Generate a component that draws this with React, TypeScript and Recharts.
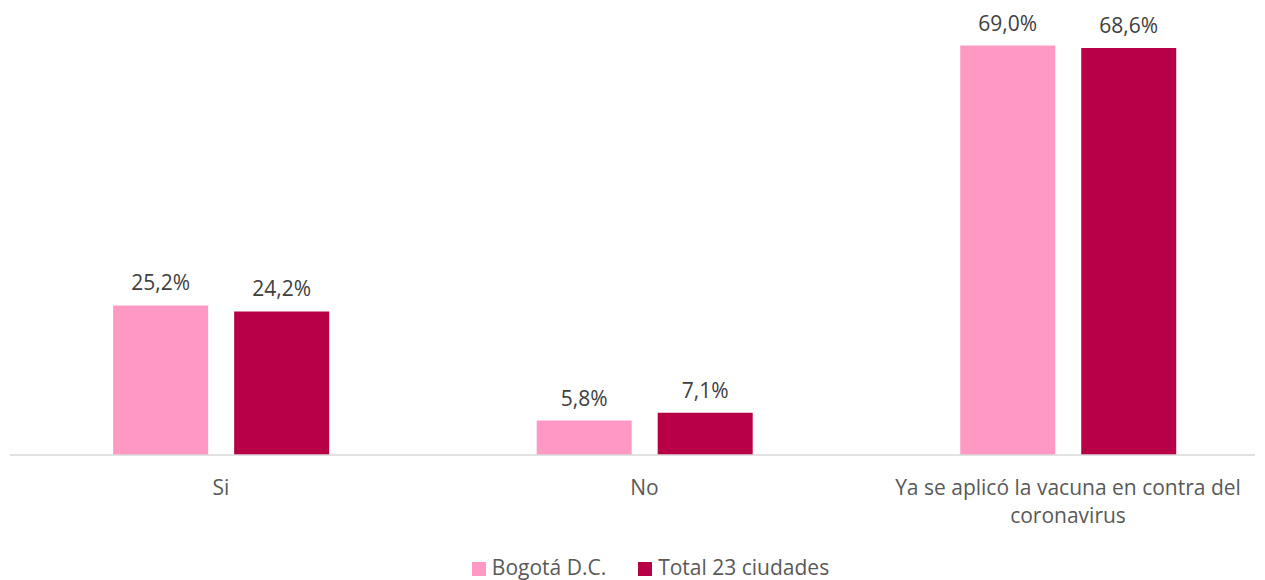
import { Bar, BarChart, LabelList, Legend, XAxis, YAxis } from "recharts";

const categories = ["Si", "No", "Ya se aplicó la vacuna en contra del coronavirus"];
const categoryLines = [["Si"], ["No"], ["Ya se aplicó la vacuna en contra del", "coronavirus"]];
const bogota = [25.2, 5.8, 69.0];
const total23 = [24.2, 7.1, 68.6];
const seriesNames = ["Bogotá D.C.", "Total 23 ciudades"];

const data = categories.map((name, i) => ({
  idx: i,
  name,
  bogota: bogota[i],
  total: total23[i],
}));

const fmt = (v: number) => v.toFixed(1).replace(".", ",") + "%";

const CategoryTick = (props: any) => {
  const { x, y, payload } = props;
  const lines = categoryLines[payload.value] || [];
  return (
    <text
      x={x}
      y={y}
      textAnchor="middle"
      fontSize={21}
      fill="#595959"
      fontFamily="Open Sans, sans-serif"
    >
      {lines.map((l, i) => (
        <tspan key={i} x={x} dy={i === 0 ? 32 : 28}>
          {l}
        </tspan>
      ))}
    </text>
  );
};

export default function App() {
  return (
    <div style={{ position: "absolute", left: 0, top: 0, fontFamily: "Open Sans, sans-serif" }}>
      <BarChart
        width={1265}
        height={580}
        data={data}
        margin={{ top: 10, right: 10, left: 10, bottom: 0 }}
        barSize={95}
        barGap={26}
      >
        <XAxis
          dataKey="idx"
          type="number"
          domain={[-0.498, 2.4415]}
          ticks={[0, 1, 2]}
          allowDataOverflow
          tick={<CategoryTick />}
          tickLine={false}
          axisLine={{ stroke: "#d9d9d9", strokeWidth: 1.5 }}
          height={101}
        />
        <YAxis hide domain={[0, 75]} />
        <Legend
          iconType="square"
          iconSize={14}
          wrapperStyle={{
            fontSize: 21,
            color: "#595959",
            lineHeight: "24px",
            top: 555,
            paddingLeft: 34,
          }}
          formatter={(value) => (
            <span style={{ color: "#595959", marginRight: 22, marginLeft: 2 }}>{value}</span>
          )}
        />
        <Bar dataKey="bogota" name={seriesNames[0]} fill="#ff99c4" isAnimationActive={false}>
          <LabelList
            dataKey="bogota"
            position="top"
            offset={15}
            formatter={(v: any) => fmt(v)}
            fill="#404040"
            fontSize={21}
          />
        </Bar>
        <Bar dataKey="total" name={seriesNames[1]} fill="#b80047" isAnimationActive={false}>
          <LabelList
            dataKey="total"
            position="top"
            offset={15}
            formatter={(v: any) => fmt(v)}
            fill="#404040"
            fontSize={21}
          />
        </Bar>
      </BarChart>
    </div>
  );
}
